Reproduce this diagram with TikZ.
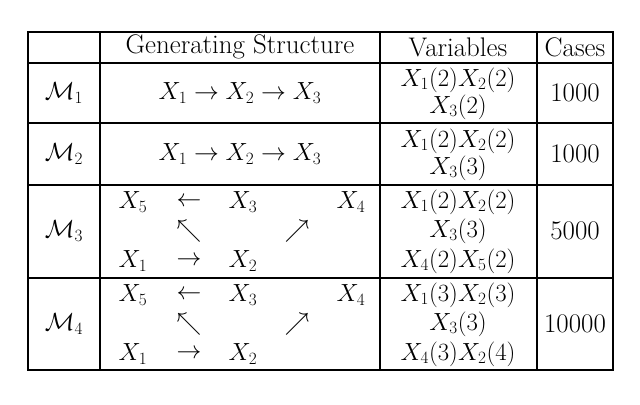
\documentclass[tikz,border=0pt]{standalone}
\usepackage{amsmath}
\usepackage{amssymb}
\begin{document}
\begin{tikzpicture}
[
x=1bp,y=-1bp,
cell/.style={inner sep=0pt,font=\fontsize{27}{31}\selectfont},
grid/.style={line width=1.2bp},
]
\useasboundingbox (0,0) rectangle (640,404);
%Table frame
\draw[grid,line width=1.6bp] (28,32) rectangle (613,370);
\foreach \y in {63,123,185,278} \draw[grid] (28,\y) -- (613,\y);
\draw[grid] (100,32) -- (100,370);
\foreach \x in {380,537} \draw[grid] (\x,32) -- (\x,370);
%Header
\node[cell] (hgen) at (240,47) {Generating Structure};
\node[cell] (hvar) at (458,47) {Variables};
\node[cell] (hcas) at (575,47) {Cases};
%Model labels
\node[cell] (m1) at (64,93) {$\mathcal{M}_1$};
\node[cell] (m2) at (64,154) {$\mathcal{M}_2$};
\node[cell] (m3) at (64,231) {$\mathcal{M}_3$};
\node[cell] (m4) at (64,324) {$\mathcal{M}_4$};
%Chains
\node[cell] (s1) at (240,93) {$X_1 \rightarrow X_2 \rightarrow X_3$};
\node[cell] (s2) at (240,154) {$X_1 \rightarrow X_2 \rightarrow X_3$};
\foreach \r/\d in {a/0,b/93}{
  \node[cell] (\r x5) at (133,202+\d) {$X_5$};
  \node[cell] (\r la) at (189,202+\d) {$\leftarrow$};
  \node[cell] (\r x3) at (243,202+\d) {$X_3$};
  \node[cell] (\r x4) at (351,202+\d) {$X_4$};
  \node[cell] (\r nw) at (189,231+\d) {$\nwarrow$};
  \node[cell] (\r ne) at (297,231+\d) {$\nearrow$};
  \node[cell] (\r x1) at (133,261+\d) {$X_1$};
  \node[cell] (\r ra) at (189,261+\d) {$\rightarrow$};
  \node[cell] (\r x2) at (243,261+\d) {$X_2$};
}
%Variables
\node[cell] (v1a) at (458,80) {$X_1(2)X_2(2)$};
\node[cell] (v1b) at (458,107) {$X_3(2)$};
\node[cell] (v2a) at (458,141) {$X_1(2)X_2(2)$};
\node[cell] (v2b) at (458,168) {$X_3(3)$};
\node[cell] (v3a) at (458,202) {$X_1(2)X_2(2)$};
\node[cell] (v3b) at (458,231) {$X_3(3)$};
\node[cell] (v3c) at (458,261) {$X_4(2)X_5(2)$};
\node[cell] (v4a) at (458,295) {$X_1(3)X_2(3)$};
\node[cell] (v4b) at (458,324) {$X_3(3)$};
\node[cell] (v4c) at (458,354) {$X_4(3)X_2(4)$};
%Cases
\node[cell] (c1) at (575,93) {1000};
\node[cell] (c2) at (575,154) {1000};
\node[cell] (c3) at (575,231) {5000};
\node[cell] (c4) at (575,324) {10000};
\end{tikzpicture}
\end{document}
